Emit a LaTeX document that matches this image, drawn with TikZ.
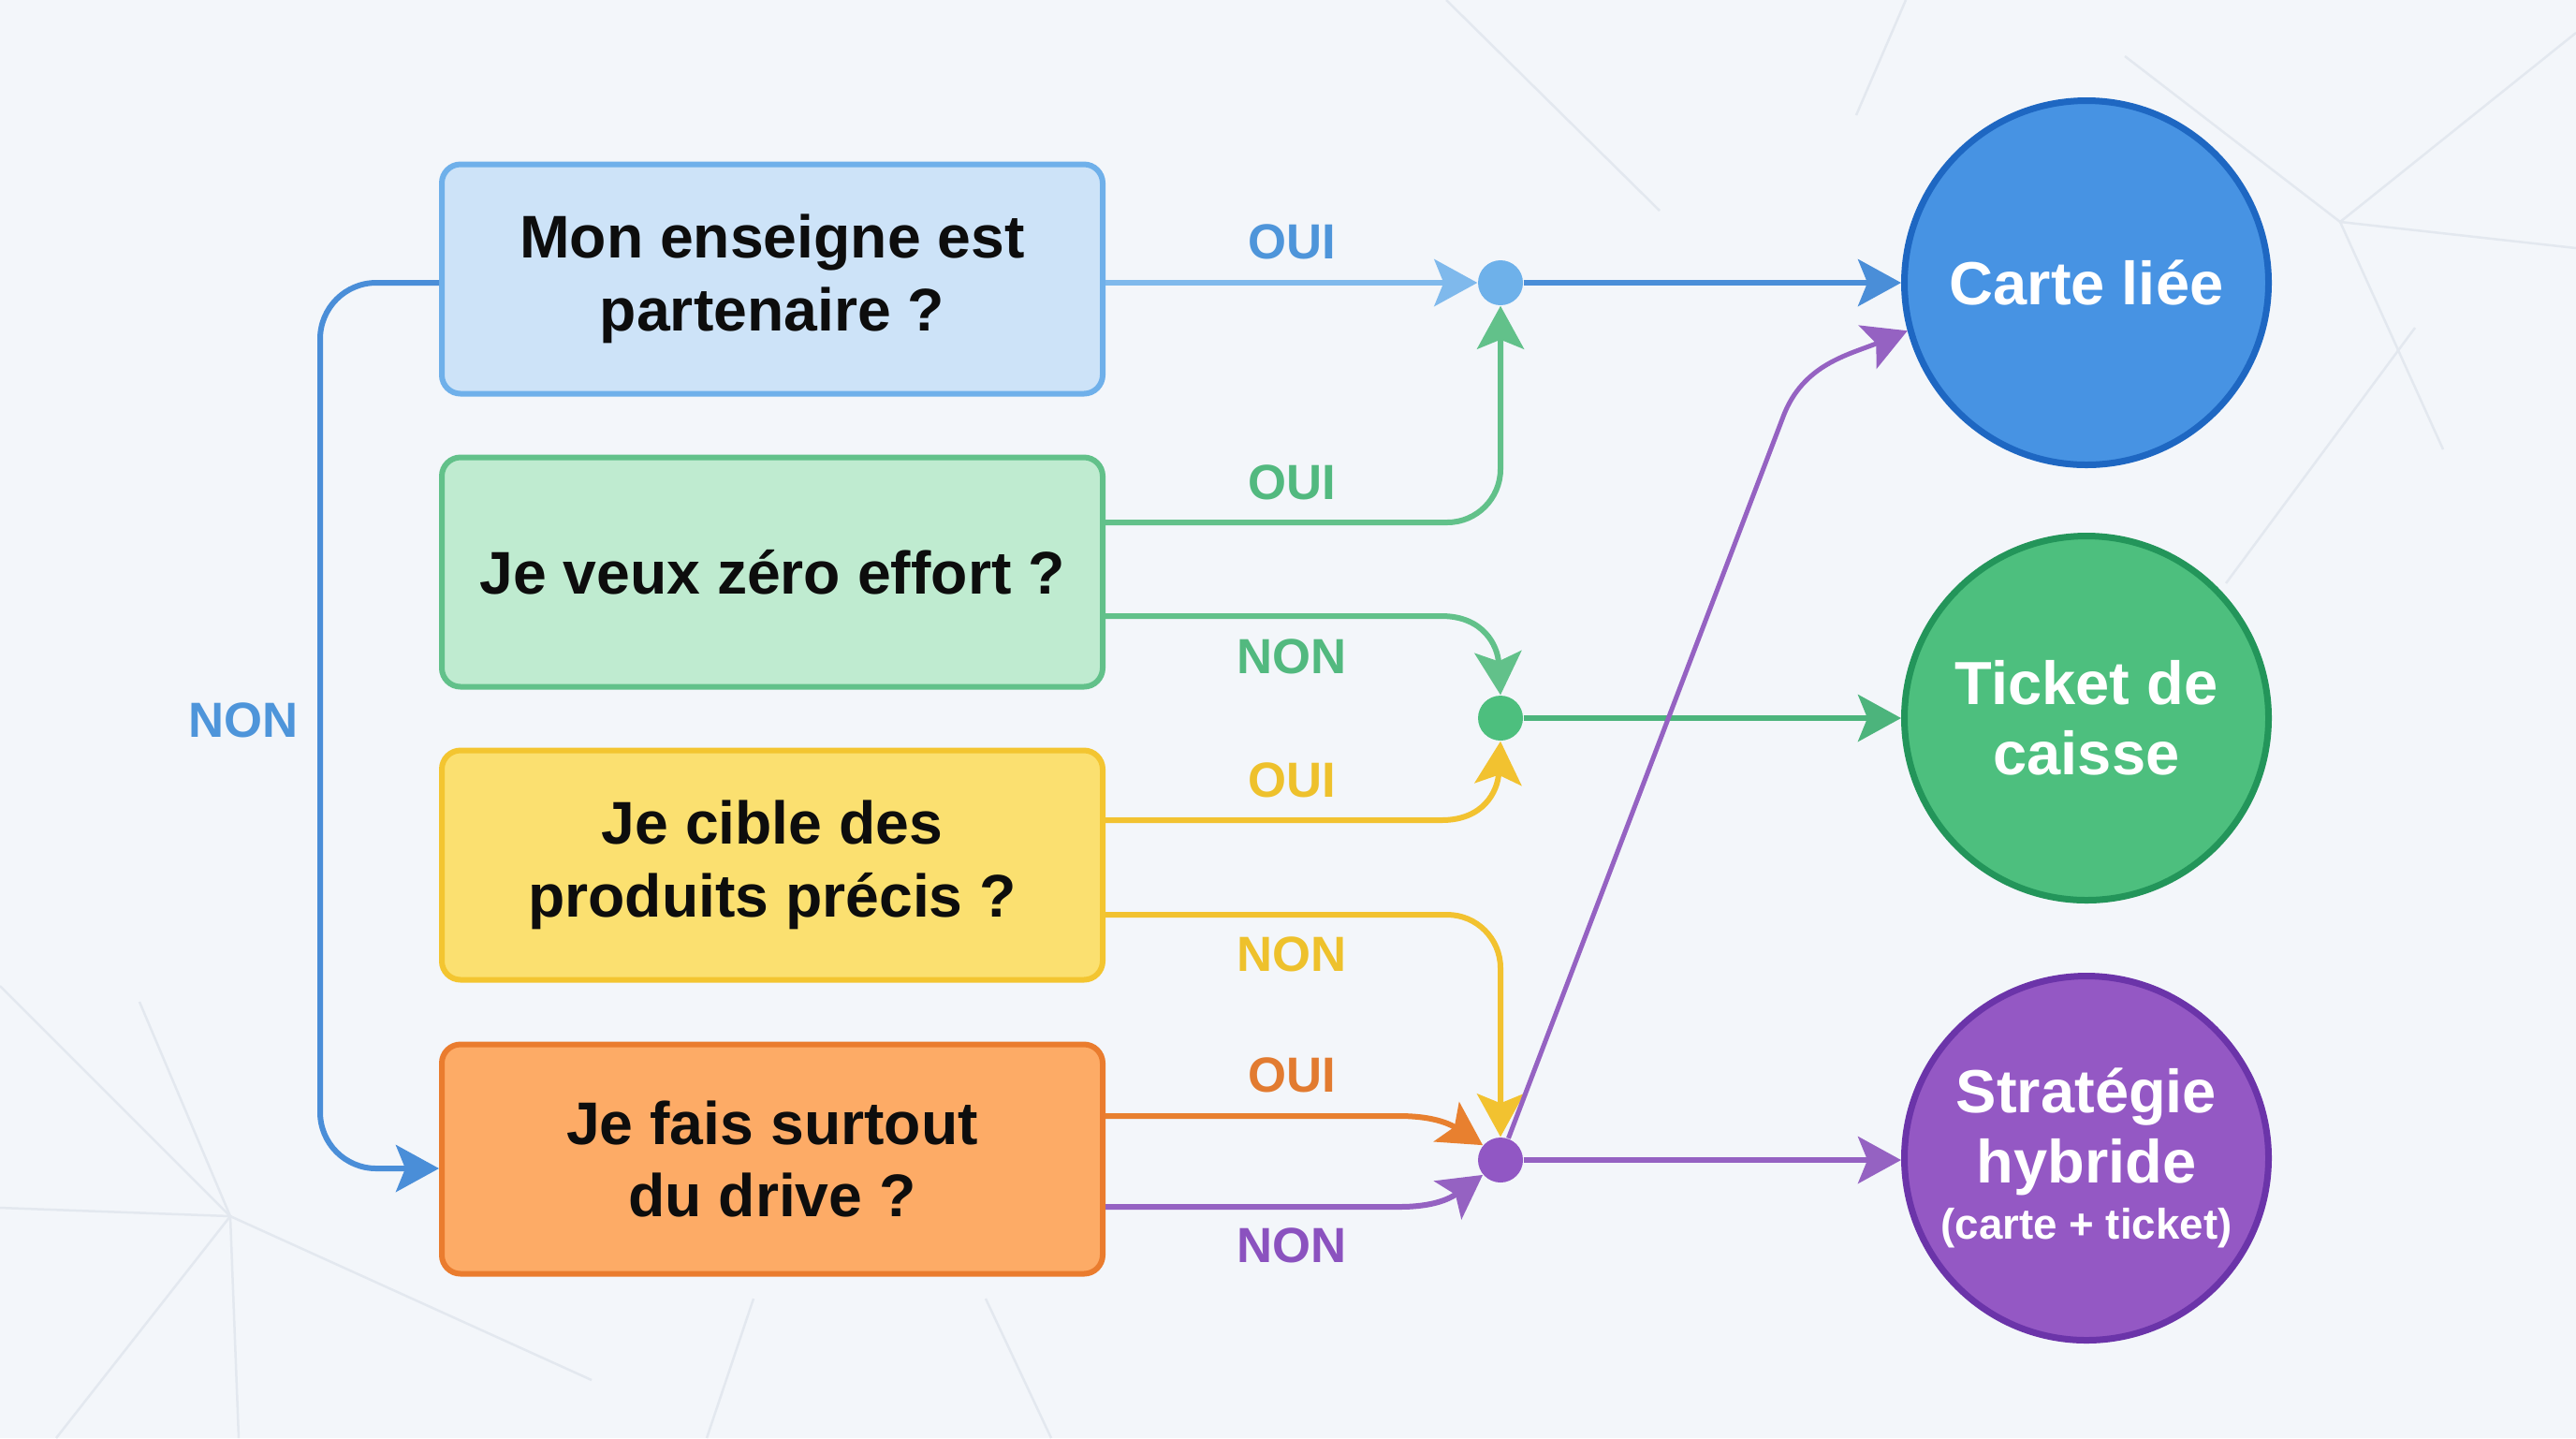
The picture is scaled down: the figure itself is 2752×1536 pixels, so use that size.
\documentclass[tikz,border=0pt]{standalone}
\usepackage{fontspec}
\setmainfont{Liberation Sans}
\usetikzlibrary{arrows.meta}
\definecolor{bgc}{HTML}{F3F6FA}
\definecolor{bgline}{HTML}{E3E8EF}
\definecolor{b1fill}{HTML}{CDE3F8}
\definecolor{b1draw}{HTML}{6FB0EA}
\definecolor{b2fill}{HTML}{BFEBD0}
\definecolor{b2draw}{HTML}{62C18A}
\definecolor{b3fill}{HTML}{FBE070}
\definecolor{b3draw}{HTML}{F3C530}
\definecolor{b4fill}{HTML}{FDAB66}
\definecolor{b4draw}{HTML}{EA7C2E}
\definecolor{c1fill}{HTML}{4793E3}
\definecolor{c1draw}{HTML}{1E67C2}
\definecolor{c2fill}{HTML}{4DBF7E}
\definecolor{c2draw}{HTML}{23955A}
\definecolor{c3fill}{HTML}{9458C4}
\definecolor{c3draw}{HTML}{6B34A9}
\definecolor{blueL}{HTML}{7FB9EC}
\definecolor{blueD}{HTML}{4A8ED8}
\definecolor{dot1c}{HTML}{6EB1EA}
\definecolor{greenL}{HTML}{62C18A}
\definecolor{greenD}{HTML}{4CB47C}
\definecolor{dot2c}{HTML}{4DBF7E}
\definecolor{yellowL}{HTML}{F2C230}
\definecolor{orangeL}{HTML}{E8802F}
\definecolor{purpleL}{HTML}{9562C2}
\definecolor{dot3c}{HTML}{9157C4}
\definecolor{blueT}{HTML}{4E95DA}
\definecolor{greenT}{HTML}{52B97F}
\definecolor{yellowT}{HTML}{EEC12C}
\definecolor{orangeT}{HTML}{E27B30}
\definecolor{purpleT}{HTML}{8B52BF}
\definecolor{txt}{HTML}{0D0D0D}
\tikzset{
  qbox/.style={draw, line width=0.6mm, rounded corners=2mm, minimum width=70.6mm,
    minimum height=24.5mm, inner sep=0pt, align=center, text=txt,
    font=\bfseries\fontsize{18.3}{22}\selectfont},
  outc/.style={circle, draw, line width=0.7mm, minimum size=38.9mm, inner sep=0pt,
    align=center, text=white, font=\bfseries\fontsize{18.5}{21.3}\selectfont},
  jdot/.style={circle, minimum size=4.8mm, inner sep=0pt, draw=none},
  ln/.style={line width=0.6mm},
  arr/.style={-{Stealth[length=4.6mm,width=5mm,inset=1mm]}},
  lab/.style={font=\bfseries\fontsize{15}{18}\selectfont, inner sep=0pt},
  bgl/.style={draw=bgline, line width=0.25mm}
}
\begin{document}
\begin{tikzpicture}[x=0.1mm,y=-0.1mm]
\useasboundingbox (0,0) rectangle (2752,1536);
\fill[bgc] (0,0) rectangle (2752,1536);
% faint background lines
\draw[bgl] (1545,0) -- (1773,225);
\draw[bgl] (1983,123) -- (2036,0);
\draw[bgl] (2270,60) -- (2500,237);
\draw[bgl] (2500,237) -- (2752,35);
\draw[bgl] (2500,237) -- (2752,265);
\draw[bgl] (2580,350) -- (2378,623);
\draw[bgl] (2500,237) -- (2610,480);
\draw[bgl] (0,1053) -- (246,1299);
\draw[bgl] (0,1290) -- (246,1299);
\draw[bgl] (246,1299) -- (632,1474);
\draw[bgl] (149,1070) -- (246,1299);
\draw[bgl] (246,1299) -- (255,1536);
\draw[bgl] (246,1299) -- (60,1536);
\draw[bgl] (755,1536) -- (805,1387);
\draw[bgl] (1053,1387) -- (1123,1536);

% question boxes
\node[qbox, fill=b1fill, draw=b1draw] (b1) at (825,298) {Mon enseigne est\\partenaire ?};
\node[qbox, fill=b2fill, draw=b2draw] (b2) at (825,611) {Je veux zéro effort ?};
\node[qbox, fill=b3fill, draw=b3draw] (b3) at (825,924) {Je cible des\\produits précis ?};
\node[qbox, fill=b4fill, draw=b4draw] (b4) at (825,1238) {Je fais surtout\\du drive ?};

% outcome circles
\node[outc, fill=c1fill, draw=c1draw] (c1) at (2229,302) {Carte liée};
\node[outc, fill=c2fill, draw=c2draw] (c2) at (2229,767) {Ticket de\\caisse};
\node[outc, fill=c3fill, draw=c3draw] (c3) at (2229,1237) {Stratégie\\hybride\\[-4.3pt]{\fontsize{13}{15}\selectfont (carte + ticket)}};

% junction dots
\node[jdot, fill=dot1c] (d1) at (1603,302) {};
\node[jdot, fill=dot2c] (d2) at (1603,767) {};
\node[jdot, fill=dot3c] (d3) at (1603,1239) {};

\coordinate (lc) at (342,1248);

% connectors
\draw[ln, blueL, arr] (b1.east |- d1) -- (d1.west);
\draw[ln, blueD, arr] (d1.east) -- (c1.west);
\draw[ln, greenL, arr, rounded corners=5.7mm] ([yshift=5.3mm]b2.east) -| (d1.south);
\draw[ln, greenL, arr] ([yshift=-4.7mm]b2.east) -- (1540,658) .. controls (1585,658) and (1600,690) .. (d2.north);
\draw[ln, greenD, arr] (d2.east) -- (c2.west);
\draw[ln, yellowL, arr] ([yshift=4.8mm]b3.east) -- (1540,876) .. controls (1585,876) and (1600,845) .. (d2.south);
\draw[ln, yellowL, arr, rounded corners=5.7mm] ([yshift=-5.3mm]b3.east) -| (d3.north);
\draw[ln, orangeL, arr] ([yshift=4.6mm]b4.east) -- (1495,1192) .. controls (1525,1192) and (1545,1198) .. (d3.140);
\draw[ln, purpleL, arr] ([yshift=-5.1mm]b4.east) -- (1495,1289) .. controls (1525,1289) and (1545,1283) .. (d3.220);
\draw[ln, purpleL, arr] (d3.east) -- (d3.east -| c3.west);
\draw[ln, purpleL, line width=0.5mm, arr] (d3.70) -- (1905,445) .. controls (1926,389) and (1975,379) .. (c1.195);
\draw[ln, blueD, arr, rounded corners=6mm] (b1.west |- d1) -| (lc) -- (lc -| b4.west);

% labels
\node[lab, text=blueT] (l1) at (1380,258) {OUI};
\node[lab, text=greenT] (l2) at (1380,515) {OUI};
\node[lab, text=greenT] (l3) at (1380,701) {NON};
\node[lab, text=yellowT] (l4) at (1380,833) {OUI};
\node[lab, text=yellowT] (l5) at (1380,1019) {NON};
\node[lab, text=orangeT] (l6) at (1380,1148) {OUI};
\node[lab, text=purpleT] (l7) at (1380,1330) {NON};
\node[lab, text=blueT] (l8) at (260,769) {NON};
\end{tikzpicture}
\end{document}
